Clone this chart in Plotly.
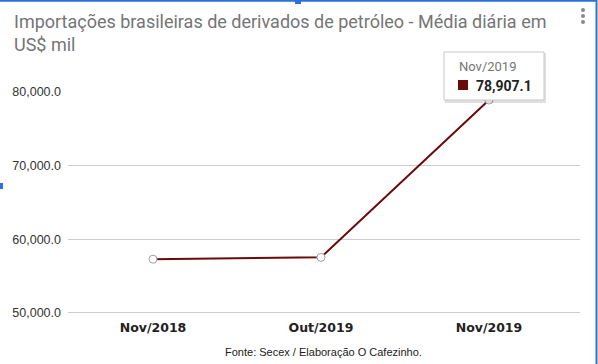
import plotly.graph_objects as go

categories = ["Nov/2018", "Out/2019", "Nov/2019"]
values = [57300.0, 57550.0, 78907.1]
y_ticks = [50000, 60000, 70000, 80000]
y_tick_labels = ["50,000.0", "60,000.0", "70,000.0", "80,000.0"]
title_text = "Importações brasileiras de derivados de petróleo - Média diária em<br>US$ mil"
source_text = "Fonte: Secex / Elaboração O Cafezinho."
tooltip_label = categories[2]
tooltip_value = "78,907.1"

W, H = 598, 364
L, R, T, B = 68, 18, 92, 50
PW, PH = W - L - R, H - T - B

def px(x):
    return (x - L) / PW

def py(y):
    return (H - B - y) / PH

fig = go.Figure()
fig.add_trace(go.Scatter(
    x=[0, 1, 2], y=values, mode="lines+markers",
    line=dict(color="#6b0a0a", width=2),
    marker=dict(size=8, color="white", line=dict(color="#9e9e9e", width=1)),
    hoverinfo="skip", showlegend=False,
))

blue = "#2a72d6"
shapes = [
    # selection frame
    dict(type="line", xref="paper", yref="paper", x0=px(0), x1=px(597), y0=py(0.8), y1=py(0.8),
         line=dict(color=blue, width=2)),
    dict(type="line", xref="paper", yref="paper", x0=px(596.5), x1=px(596.5), y0=py(0), y1=py(364),
         line=dict(color=blue, width=2)),
    dict(type="rect", xref="paper", yref="paper", x0=px(295), x1=px(301), y0=py(0), y1=py(4),
         line=dict(width=0), fillcolor=blue),
    dict(type="rect", xref="paper", yref="paper", x0=px(0), x1=px(3), y0=py(183), y1=py(189),
         line=dict(width=0), fillcolor=blue),
    # menu dots
    *[dict(type="circle", xref="paper", yref="paper", x0=px(581), x1=px(585), y0=py(cy - 2), y1=py(cy + 2),
           line=dict(width=0), fillcolor="#8a8a8a") for cy in (10, 16, 22)],
    # tooltip shadow + box
    dict(type="rect", xref="paper", yref="paper", x0=px(445), x1=px(546), y0=py(53), y1=py(103),
         line=dict(width=0), fillcolor="rgba(0,0,0,0.12)", layer="above"),
    dict(type="rect", xref="paper", yref="paper", x0=px(444), x1=px(544), y0=py(52), y1=py(100),
         line=dict(color="#c8c8c8", width=1), fillcolor="white", layer="above"),
    dict(type="rect", xref="paper", yref="paper", x0=px(458), x1=px(468), y0=py(80), y1=py(90),
         line=dict(width=0), fillcolor="#6b0a0a", layer="above"),
]

annotations = [
    dict(text=title_text, xref="paper", yref="paper", x=px(12), y=py(9), xanchor="left", yanchor="top",
         align="left", showarrow=False, font=dict(family="Roboto", size=18, color="#757575")),
    dict(text=source_text, xref="paper", yref="paper", x=px(323), y=py(352), xanchor="center", yanchor="middle",
         showarrow=False, font=dict(family="Liberation Sans", size=11, color="#222222")),
    dict(text=tooltip_label, xref="paper", yref="paper", x=px(457), y=py(66), xanchor="left", yanchor="middle",
         showarrow=False, font=dict(family="Roboto", size=13, color="#757575")),
    dict(text="<b>" + tooltip_value + "</b>", xref="paper", yref="paper", x=px(474), y=py(85.5), xanchor="left",
         yanchor="middle", showarrow=False, font=dict(family="Roboto", size=14, color="#222222")),
]

fig.update_layout(
    width=W, height=H,
    margin=dict(l=L, r=R, t=T, b=B, pad=0),
    paper_bgcolor="white", plot_bgcolor="white",
    shapes=shapes, annotations=annotations,
    hovermode=False,
    xaxis=dict(
        range=[-0.506, 2.542], tickmode="array", tickvals=[0, 1, 2],
        ticktext=["<b>" + c + "</b>" for c in categories],
        showgrid=False, zeroline=False, showline=False, ticks="",
        ticklabelstandoff=4,
        tickfont=dict(family="DejaVu Sans", size=12.5, color="#222222"),
    ),
    yaxis=dict(
        range=[49860, 80000], tickmode="array", tickvals=y_ticks, ticktext=y_tick_labels,
        showgrid=True, gridcolor="#cccccc", gridwidth=1, zeroline=False, showline=False, ticks="",
        ticklabelstandoff=6,
        tickfont=dict(family="Liberation Sans", size=12.5, color="#333333"),
    ),
)

fig.write_html("out.html", config={"displayModeBar": False},
               post_script="document.body.style.margin='0';document.body.style.overflow='hidden';")
